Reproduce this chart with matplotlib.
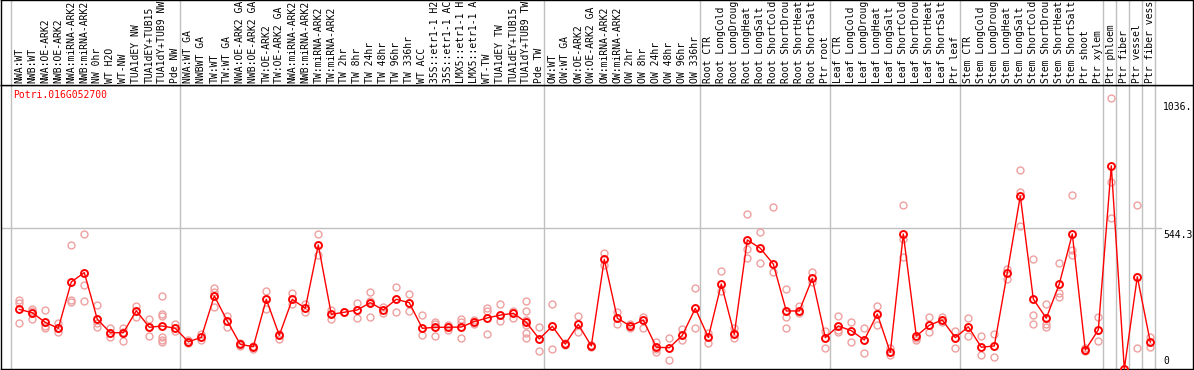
import matplotlib
matplotlib.use('Agg')
import matplotlib.pyplot as plt

# labels as they show in the chart (cut to 14 characters)
labels = ['NWA:WT', 'NWB:WT', 'NWA:OE-ARK2', 'NWB:OE-ARK2', 'NWA:miRNA-ARK2', 'NWB:miRNA-ARK2',
          'NW 0hr', 'WT H2O', 'WT-NW', 'TUA1dEY NW', 'TUA1dEY+TUB15', 'TUA1dY+TUB9 NW', 'Pde NW',
          'NWA:WT GA', 'NWBWT GA', 'TW:WT', 'TW:WT GA', 'NWA:OE-ARK2 GA', 'NWB:OE-ARK2 GA',
          'TW:OE-ARK2', 'TW:OE-ARK2 GA', 'NWA:miRNA-ARK2', 'NWB:miRNA-ARK2', 'TW:miRNA-ARK2',
          'TW:miRNA-ARK2', 'TW 2hr', 'TW 8hr', 'TW 24hr', 'TW 48hr', 'TW 96hr', 'TW 336hr', 'WT ACC',
          '35S::etr1-1 H2', '35S::etr1-1 AC', 'LMX5::etr1-1 H', 'LMX5::etr1-1 A', 'WT-TW',
          'TUA1dEY TW', 'TUA1dEY+TUB15', 'TUA1dY+TUB9 TW', 'Pde TW',
          'OW:WT', 'OW:WT GA', 'OW:OE-ARK2', 'OW:OE-ARK2 GA', 'OW:miRNA-ARK2', 'OW:miRNA-ARK2',
          'OW 2hr', 'OW 8hr', 'OW 24hr', 'OW 48hr', 'OW 96hr', 'OW 336hr',
          'Root CTR', 'Root LongCold', 'Root LongDroug', 'Root LongHeat', 'Root LongSalt',
          'Root ShortCold', 'Root ShortDrou', 'Root ShortHeat', 'Root ShortSalt', 'Ptr root',
          'Leaf CTR', 'Leaf LongCold', 'Leaf LongDroug', 'Leaf LongHeat', 'Leaf LongSalt',
          'Leaf ShortCold', 'Leaf ShortDrou', 'Leaf ShortHeat', 'Leaf ShortSalt', 'Ptr leaf',
          'Stem CTR', 'Stem LongCold', 'Stem LongDroug', 'Stem LongHeat', 'Stem LongSalt',
          'Stem ShortCold', 'Stem ShortDrou', 'Stem ShortHeat', 'Stem ShortSalt', 'Ptr shoot',
          'Ptr xylem', 'Ptr phloem', 'Ptr fiber', 'Ptr vessel', 'Ptr fiber vess']

means = [230, 217, 180, 157, 336, 372, 192, 140, 140, 225, 161, 166, 157,
         105, 122, 282, 185, 95, 86, 269, 130, 269, 234, 479, 211, 219, 228, 256, 228,
         269, 256, 157, 161, 161, 162, 183, 197, 208, 215, 180, 116,
         165, 96, 172, 89, 423, 196, 166, 189, 84, 82, 130, 234,
         122, 328, 134, 498, 466, 405, 224, 224, 350, 121,
         166, 148, 112, 212, 64, 521, 127, 169, 189, 121,
         163, 84, 89, 372, 668, 270, 196, 328, 521, 73, 151,
         784, 0, 356, 104]

reps = [[265, 255, 176], [231, 222, 192], [228, 157, 165], [176, 142, 157], [479, 266, 260],
        [521, 324, 261], [246, 176, 161], [157, 125, 140], [157, 109, 142], [244, 200],
        [192, 129, 161], [282, 212, 205, 122, 112, 105], [173, 148],
        [110, 100], [135, 112], [311, 296, 240], [205, 161], [100, 90], [90, 76], [301, 233],
        [135, 117], [292, 251], [251, 221], [521, 440], [228, 192], [219], [254, 196],
        [296, 262, 200], [240, 215], [315, 219], [288, 224], [207, 131], [183, 175, 127],
        [170, 150], [194, 183, 118], [190, 175], [234, 224, 134], [251, 185], [224, 196],
        [262, 224, 190, 170, 140, 121], [161, 69],
        [251, 77], [100, 92], [205, 142], [93, 86], [449, 402], [221, 172], [172, 160],
        [202, 157], [105, 67, 76], [118, 35], [153, 112], [311, 157],
        [140, 102], [378, 302], [157, 140, 119], [597, 463, 427], [528, 408], [624, 376],
        [308, 202, 157], [243, 215], [376, 337], [148, 80],
        [205, 142, 150], [183, 103], [157, 61], [243, 170], [80, 54], [632, 501, 431],
        [112, 120], [200, 142], [202, 180], [148, 82],
        [196, 127], [127, 54], [135, 45], [385, 347], [768, 684, 552], [423, 208, 174],
        [251, 161, 175], [410, 292, 277], [672, 459, 440], [80, 68], [200, 109],
        [1045, 723, 582], [], [633, 80], [125, 86]]

# first index of each sample group -> grey separator lines
group_starts = [0, 13, 41, 53, 63, 73, 84, 85, 86, 87, 88]
yticks = [0, 544.3, 1036]
ytick_text = ['0', '544.3', '1036.']
gene = 'Potri.016G052700'

W, H = 1194, 370
fig = plt.figure(figsize=(W / 100, H / 100), dpi=100)
xlim = ((1 - 19.3) / 13, (1193 - 19.3) / 13)
font = 'DejaVu Sans Mono'
fs = 7.0

ax = fig.add_axes([1 / W, 1 / H, 1192 / W, 284 / H])
ax.set_xlim(xlim)
ax.set_ylim(0, 1096)
ax.set_xticks([])
ax.set_yticks([])
for s in ax.spines.values():
    s.set_color('black')
    s.set_linewidth(1)

lab = fig.add_axes([1 / W, 285 / H, 1192 / W, 85 / H])
lab.set_xlim(xlim)
lab.set_ylim(0, 1)
lab.set_xticks([])
lab.set_yticks([])
for s in lab.spines.values():
    s.set_color('black')
    s.set_linewidth(1)

for g in group_starts:
    ax.axvline(g - 0.65, color='#c0c0c0', lw=1, zorder=1)
    lab.axvline(g - 0.65, color='#c0c0c0', lw=1, zorder=1)

ax.plot([xlim[0], 87.8], [yticks[1], yticks[1]], color='#c0c0c0', lw=1, zorder=1)

for i, r in enumerate(reps):
    ax.plot([i] * len(r), r, 'o', ms=5, mfc='none', mec='#eea0a0', mew=1, zorder=2,
            clip_on=False)
ax.plot(range(len(means)), means, '-', color='red', lw=1, zorder=3, clip_on=False)
ax.plot(range(len(means)), means, 'o', ms=5, mfc='none', mec='red', mew=1.4, zorder=4,
        clip_on=False)

for i, t in enumerate(labels):
    lab.text(i, 0.025, t, rotation=90, ha='center', va='bottom', fontsize=fs,
             family=font, color='black', clip_on=False)

ax.text(0.01, 0.965, gene, transform=ax.transAxes, color='red', fontsize=fs,
        family=font, va='center', ha='left')

ax.text(88, yticks[2] - 6, ytick_text[2], fontsize=fs, family=font, va='top', ha='left')
ax.text(88, yticks[1] - 6, ytick_text[1], fontsize=fs, family=font, va='top', ha='left')
ax.text(88, yticks[0] + 12, ytick_text[0], fontsize=fs, family=font, va='bottom', ha='left')

fig.savefig('out.png', dpi=100)
